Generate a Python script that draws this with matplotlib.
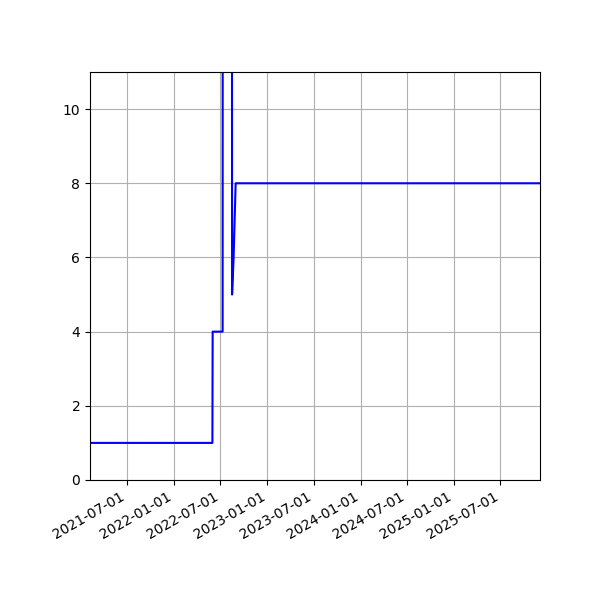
import matplotlib
matplotlib.use("Agg")
import matplotlib.pyplot as plt
import matplotlib.dates as mdates
import numpy as np

# change points of the series
dates = ["2021-02-06", "2022-05-31", "2022-06-01", "2022-07-10", "2022-07-11",
         "2022-08-15", "2022-08-16", "2022-08-22", "2022-08-30", "2025-12-03"]
values = [1, 1, 4, 4, 30, 30, 5, 6, 8, 8]

x = np.array(dates, dtype="datetime64[D]")

fig, ax = plt.subplots(figsize=(6, 6), dpi=100)
ax.plot(x, values, color="b")

ax.set_xlim(x[0], x[-1])
ax.set_ylim(0, 11)
ax.xaxis.set_major_locator(mdates.MonthLocator(bymonth=[1, 7]))
ax.xaxis.set_major_formatter(mdates.DateFormatter("%Y-%m-%d"))
ax.grid(True)

fig.autofmt_xdate()
fig.subplots_adjust(left=0.15)
fig.savefig("out.png")
